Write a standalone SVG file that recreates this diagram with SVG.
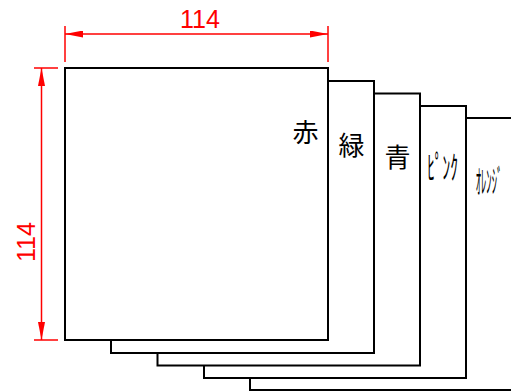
<svg xmlns="http://www.w3.org/2000/svg" width="511" height="391" viewBox="0 0 511 391">
<style>
.sheet{fill:#fff;stroke:#000;stroke-width:2}
.dim{stroke:#f00;stroke-width:1.5;fill:none}
.dimtxt{fill:#f00;font-family:"Liberation Sans",sans-serif;font-size:25px}
.lbl{fill:#000;font-family:"Noto Sans CJK JP",sans-serif;text-anchor:middle}
</style>
<defs>
<marker id="ah" viewBox="0 0 18 7" refX="18" refY="3.5" markerWidth="18" markerHeight="7" markerUnits="userSpaceOnUse" orient="auto-start-reverse">
<path d="M0,0 L18,3.5 L0,7 Z" fill="#f00"/>
</marker>
</defs>
<g id="sheet-orange"><rect class="sheet" x="250" y="118" width="270" height="272"/><text class="lbl" transform="translate(489,193) scale(0.33,1)" font-size="32">ｵﾚﾝｼﾞ</text></g>
<g id="sheet-pink"><rect class="sheet" x="204" y="106" width="262" height="272"/><text class="lbl" transform="translate(442.5,179) scale(0.48,1)" font-size="32">ﾋﾟﾝｸ</text></g>
<g id="sheet-blue"><rect class="sheet" x="157.5" y="93.5" width="262.5" height="272"/><text class="lbl" x="397.5" y="167" font-size="26">青</text></g>
<g id="sheet-green"><rect class="sheet" x="111" y="81" width="263" height="272"/><text class="lbl" x="351.5" y="155" font-size="26">緑</text></g>
<g id="sheet-red"><rect class="sheet" x="65" y="68" width="263" height="272"/><text class="lbl" x="305.5" y="142" font-size="26">赤</text></g>
<g id="dimensions">
<line class="dim" x1="65" y1="26" x2="65" y2="62"/>
<line class="dim" x1="328" y1="26" x2="328" y2="62"/>
<line class="dim" x1="65" y1="34" x2="328" y2="34" marker-start="url(#ah)" marker-end="url(#ah)"/>
<text class="dimtxt" x="200" y="28" text-anchor="middle" textLength="40" lengthAdjust="spacingAndGlyphs">114</text>
<line class="dim" x1="34" y1="68" x2="58" y2="68"/>
<line class="dim" x1="34" y1="340" x2="58" y2="340"/>
<line class="dim" x1="41.5" y1="68" x2="41.5" y2="340" marker-start="url(#ah)" marker-end="url(#ah)"/>
<text class="dimtxt" transform="translate(35,242) rotate(-90)" x="0" y="0" text-anchor="middle" textLength="40" lengthAdjust="spacingAndGlyphs">114</text>
</g>
</svg>
